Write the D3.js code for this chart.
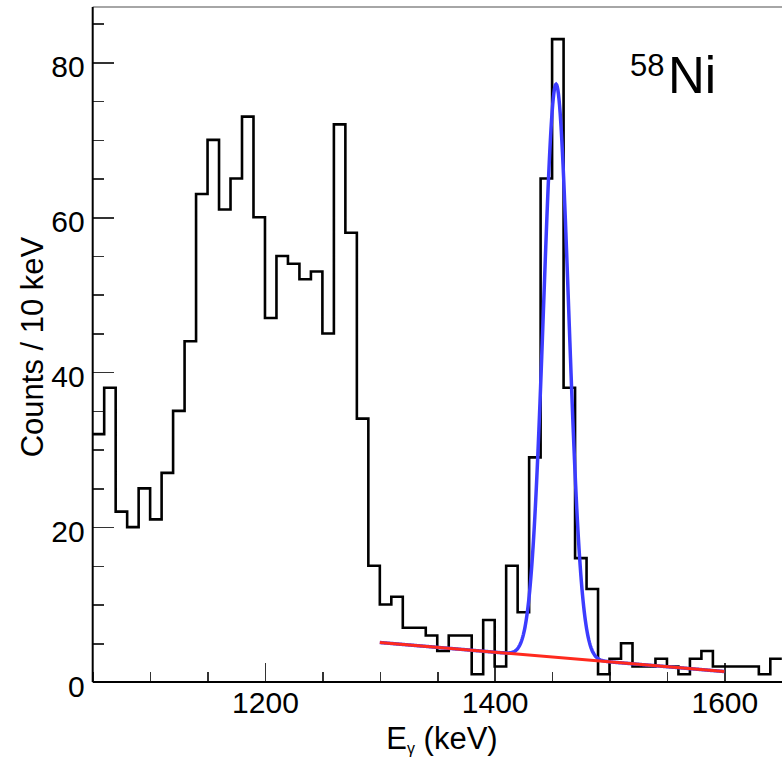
<!DOCTYPE html>
<meta charset="utf-8">
<style>
body {
	margin: 0;
	background-color: #ffffff;
}
text {
	font-family: "Liberation Sans", Arial, Helvetica, sans-serif;
	fill: #000;
}
.axis path { display: none; }
.axis line { stroke: #333; stroke-width: 1.5; shape-rendering: crispEdges; }
</style>
<body>
<script src="https://d3js.org/d3.v7.min.js"></script>
<script>
var width = 782, height = 757;

// histogram: 10 keV bins starting at 1050 keV
var binStart = 1050;
var binWidth = 10;
var counts = [
	32, 38, 22, 20, 25, 21, 27, 35, 44, 63,
	70, 61, 65, 73, 60, 47, 55, 54, 52, 53,
	45, 72, 58, 34, 15, 10, 11, 7, 7, 6,
	4, 6, 6, 1, 8, 2, 15, 9, 29, 65,
	83, 38, 16, 12, 1, 3, 5, 2, 2, 3,
	2, 1, 3, 4, 2, 2, 2, 2, 1, 3
];

// fit: gaussian on a linear background, drawn over 1300-1600 keV
var fitRange = [1300, 1600];
var peakAmp = 74, peakMean = 1453.5, peakSigma = 11;
var bgAt1300 = 5.1, bgSlope = -0.0125;

var xTicks = [1200, 1400, 1600];
var yTicks = [0, 20, 40, 60, 80];

var padL = 92.7, padR = 781.8, padT = 7, padB = 682;

var x = d3.scaleLinear().domain([1050, 1650]).range([padL, padR]);
var y = d3.scaleLinear().domain([0, 87.15]).range([padB, padT]);

var svg = d3.select('body')
	.append('svg')
	.attr('width', width)
	.attr('height', height);

// frame top
svg.append('line')
	.attr('x1', padL).attr('x2', width)
	.attr('y1', padT).attr('y2', padT)
	.style('stroke', '#888').style('stroke-width', 1.5);

// minor ticks
svg.append('g').attr('class', 'axis')
	.attr('transform', 'translate(0,' + padB + ')')
	.call(d3.axisBottom(x).tickValues(d3.range(1050, 1651, 50)).tickSize(-10).tickFormat(''));
svg.append('g').attr('class', 'axis')
	.attr('transform', 'translate(' + padL + ',0)')
	.call(d3.axisLeft(y).tickValues(d3.range(0, 87, 5)).tickSize(-11).tickFormat(''));

// major ticks + labels
svg.append('g').attr('class', 'axis')
	.attr('transform', 'translate(0,' + padB + ')')
	.call(d3.axisBottom(x).tickValues(xTicks).tickSize(-19).tickPadding(10).tickFormat(d3.format('d')))
	.selectAll('text')
	.style('font-size', '30px')
	.style('font-family', '"Liberation Sans", Arial, sans-serif');
svg.append('g').attr('class', 'axis')
	.attr('transform', 'translate(' + padL + ',0)')
	.call(d3.axisLeft(y).tickValues(yTicks).tickSize(-21).tickPadding(8).tickFormat(d3.format('d')))
	.selectAll('text')
	.attr('dy', '0.47em')
	.style('font-size', '30px')
	.style('font-family', '"Liberation Sans", Arial, sans-serif');

// axis lines
svg.append('line')
	.attr('x1', padL).attr('x2', width)
	.attr('y1', padB).attr('y2', padB)
	.style('stroke', '#000').style('stroke-width', 2);
svg.append('line')
	.attr('x1', padL).attr('x2', padL)
	.attr('y1', padT).attr('y2', padB)
	.style('stroke', '#000').style('stroke-width', 2);

// histogram
var steps = counts.map(function(c, i) { return { e: binStart + i * binWidth, c: c }; });
steps.push({ e: binStart + counts.length * binWidth, c: counts[counts.length - 1] });

var stepLine = d3.line()
	.x(function(d) { return x(d.e); })
	.y(function(d) { return y(d.c); })
	.curve(d3.curveStepAfter);

svg.append('path')
	.datum(steps)
	.attr('d', stepLine)
	.style('fill', 'none')
	.style('stroke', '#000')
	.style('stroke-width', 2.6);

// fit curves
function bg(e) { return bgAt1300 + bgSlope * (e - 1300); }
function total(e) {
	var z = (e - peakMean) / peakSigma;
	return bg(e) + peakAmp * Math.exp(-0.5 * z * z);
}
var fitE = d3.range(fitRange[0], fitRange[1] + 0.01, 0.5);

var fitLine = d3.line()
	.x(function(d) { return x(d[0]); })
	.y(function(d) { return y(d[1]); });

svg.append('path')
	.datum(fitE.map(function(e) { return [e, total(e)]; }))
	.attr('d', fitLine)
	.style('fill', 'none')
	.style('stroke', '#3c3cff')
	.style('stroke-width', 3.5);

svg.append('path')
	.datum(fitRange.map(function(e) { return [e, bg(e)]; }))
	.attr('d', fitLine)
	.style('fill', 'none')
	.style('stroke', '#ff2a1e')
	.style('stroke-width', 3);

// titles
var xt = svg.append('text')
	.attr('x', 442).attr('y', 749)
	.attr('text-anchor', 'middle')
	.style('font-size', '31px');
xt.append('tspan').text('E');
xt.append('tspan').text('γ').attr('dy', 5).style('font-size', '16px');
xt.append('tspan').text(' (keV)').attr('dy', -5);

svg.append('text')
	.attr('transform', 'translate(43,347) rotate(-90)')
	.attr('text-anchor', 'middle')
	.style('font-size', '31px')
	.text('Counts / 10 keV');

svg.append('text')
	.attr('x', 630).attr('y', 76)
	.style('font-size', '31px')
	.text('58');
svg.append('text')
	.attr('x', 668).attr('y', 93)
	.style('font-size', '51px')
	.text('Ni');
</script>
</body>
